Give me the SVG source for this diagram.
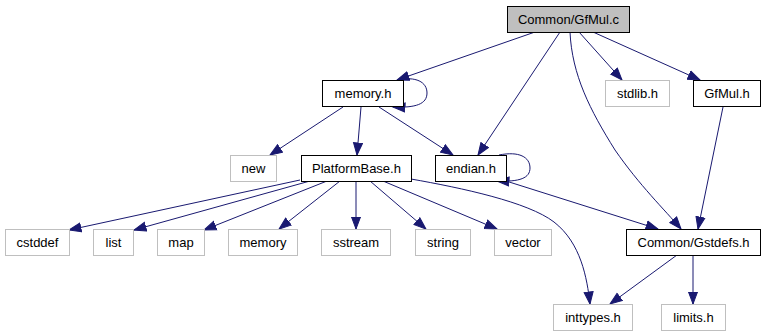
<svg xmlns="http://www.w3.org/2000/svg" width="766" height="336" viewBox="0 0 766 336">
  <style>
    .node rect { fill: #ffffff; stroke: #000000; stroke-width: 1; }
    .node.ext rect { stroke: #bfbfbf; }
    .node.main rect { fill: #bfbfbf; stroke: #000000; }
    .node text { font-family: "Liberation Sans", Arial, Helvetica, sans-serif; font-size: 13px; fill: #000000; text-anchor: middle; }
    .edges path { fill: none; stroke: #191970; stroke-width: 1; marker-end: url(#arrow); }
  </style>
  <defs>
    <!-- filled midnight-blue arrowhead, tip at the path end -->
    <marker id="arrow" markerUnits="userSpaceOnUse" markerWidth="14" markerHeight="12" refX="12.5" refY="5.5" orient="auto">
      <path d="M0.5,1 L12.5,5.5 L0.5,10 Z" fill="#191970" stroke="#191970" stroke-width="1"/>
    </marker>
  </defs>
  <rect width="766" height="336" fill="#ffffff"/>

  <!-- connectors -->
  <g id="edges" class="edges">
    <path d="M535,32 L397,80"/>
    <path d="M397,80 C416,76 427,82 427,93 C427,104 416,108 393,107"/>
    <path d="M560,32 L478,155"/>
    <path d="M570,32 C572,75 590,110 615,150 C640,186 664,209 681,229"/>
    <path d="M579,32 L622,80"/>
    <path d="M593,32 L700,80"/>
    <path d="M343,107 L270,155"/>
    <path d="M361,107 L357,155"/>
    <path d="M379,107 L453,155"/>
    <path d="M723,107 L698,229"/>
    <path d="M499,155 C519,151 530,157 530,168 C530,178 520,182 497,181"/>
    <path d="M506,181 L658,229"/>
    <path d="M300,180 L69,230"/>
    <path d="M310,181 L134,230"/>
    <path d="M327,181 L204,230"/>
    <path d="M340,181 L279,229"/>
    <path d="M356,181 L356,229"/>
    <path d="M370,181 L426,229"/>
    <path d="M383,181 L497,229"/>
    <path d="M411,179 C462,188 528,202 554,222 C581,243 587,278 590,304"/>
    <path d="M677,255 L610,304"/>
    <path d="M693,255 L693,304"/>
  </g>

  <!-- nodes -->
  <g id="gfmul_c" class="node main"><rect x="507.5" y="6.5" width="122" height="26"/><text x="568.5" y="24">Common/GfMul.c</text></g>
  <g id="memory_h" class="node"><rect x="322.5" y="80.5" width="81" height="26"/><text x="363" y="98">memory.h</text></g>
  <g id="stdlib_h" class="node ext"><rect x="605.5" y="80.5" width="64" height="26"/><text x="637.5" y="98">stdlib.h</text></g>
  <g id="gfmul_h" class="node"><rect x="693.5" y="80.5" width="67" height="26"/><text x="727" y="98">GfMul.h</text></g>
  <g id="new" class="node ext"><rect x="230.5" y="155.5" width="46" height="26"/><text x="253.5" y="173">new</text></g>
  <g id="platformbase_h" class="node"><rect x="301.5" y="155.5" width="110" height="26"/><text x="356.5" y="173">PlatformBase.h</text></g>
  <g id="endian_h" class="node"><rect x="435.5" y="155.5" width="71" height="26"/><text x="471" y="173">endian.h</text></g>
  <g id="cstddef" class="node ext"><rect x="5.5" y="229.5" width="64" height="26"/><text x="37.5" y="247">cstddef</text></g>
  <g id="list" class="node ext"><rect x="93.5" y="229.5" width="40" height="26"/><text x="113.5" y="247">list</text></g>
  <g id="map" class="node ext"><rect x="157.5" y="229.5" width="47" height="26"/><text x="181" y="247">map</text></g>
  <g id="memory" class="node ext"><rect x="228.5" y="229.5" width="69" height="26"/><text x="263" y="247">memory</text></g>
  <g id="sstream" class="node ext"><rect x="321.5" y="229.5" width="69" height="26"/><text x="356" y="247">sstream</text></g>
  <g id="string" class="node ext"><rect x="415.5" y="229.5" width="55" height="26"/><text x="443" y="247">string</text></g>
  <g id="vector" class="node ext"><rect x="494.5" y="229.5" width="57" height="26"/><text x="523" y="247">vector</text></g>
  <g id="gstdefs_h" class="node"><rect x="626.5" y="229.5" width="134" height="26"/><text x="693.5" y="247">Common/Gstdefs.h</text></g>
  <g id="inttypes_h" class="node ext"><rect x="553.5" y="304.5" width="79" height="26"/><text x="593" y="322">inttypes.h</text></g>
  <g id="limits_h" class="node ext"><rect x="661.5" y="304.5" width="64" height="26"/><text x="693.5" y="322">limits.h</text></g>
</svg>
